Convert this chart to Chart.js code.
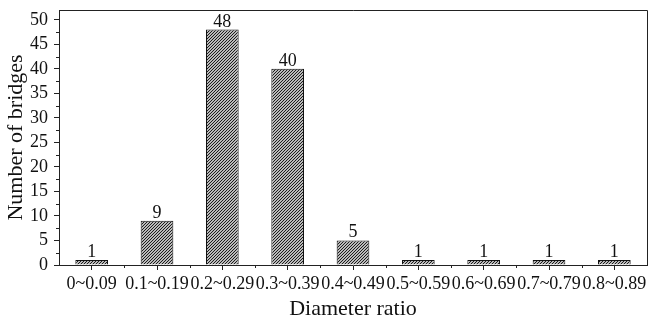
<!DOCTYPE html>
<html>
<head>
<meta charset="utf-8">
<script src="https://cdn.jsdelivr.net/npm/chart.js@4"></script>
<style>
  html, body { margin: 0; padding: 0; background: #fff; }
  #wrap { width: 651px; height: 322px; }
</style>
</head>
<body>
<div id="wrap"><canvas id="c" width="651" height="322"></canvas></div>
<script>
// Distribution of bridges by diameter ratio
const categories = ['0~0.09', '0.1~0.19', '0.2~0.29', '0.3~0.39', '0.4~0.49', '0.5~0.59', '0.6~0.69', '0.7~0.79', '0.8~0.89'];
const bridgeCounts = [1, 9, 48, 40, 5, 1, 1, 1, 1];
const yTickValues = [0, 5, 10, 15, 20, 25, 30, 35, 40, 45, 50];

const FONT = '"Liberation Serif", "Times New Roman", serif';

// diagonal hatch fill
function makeHatch() {
  const s = 3;
  const c = document.createElement('canvas');
  c.width = s; c.height = s;
  const g = c.getContext('2d');
  g.fillStyle = '#fff';
  g.fillRect(0, 0, s, s);
  g.strokeStyle = '#111';
  g.lineWidth = 1.1;
  g.beginPath();
  g.moveTo(-1, s + 1); g.lineTo(s + 1, -1);
  g.moveTo(-1, 1); g.lineTo(1, -1);
  g.moveTo(s - 1, s + 1); g.lineTo(s + 1, s - 1);
  g.stroke();
  return g.createPattern(c, 'repeat');
}

// frame, minor ticks and value labels
const decorations = {
  id: 'decorations',
  afterDraw(chart) {
    const ctx = chart.ctx;
    const a = chart.chartArea;
    const xs = chart.scales.x, ys = chart.scales.y;
    ctx.save();
    ctx.strokeStyle = '#222';
    ctx.lineWidth = 1;
    // top and right frame
    ctx.beginPath();
    ctx.moveTo(a.left, Math.round(a.top) + 0.5);
    ctx.lineTo(Math.round(a.right) + 0.5, Math.round(a.top) + 0.5);
    ctx.lineTo(Math.round(a.right) + 0.5, a.bottom);
    ctx.stroke();
    // minor y ticks
    ctx.beginPath();
    for (let v = 2.5; v < 52; v += 5) {
      const y = Math.round(ys.getPixelForValue(v)) + 0.5;
      ctx.moveTo(a.left - 3, y); ctx.lineTo(a.left, y);
    }
    // minor x ticks at category boundaries
    for (let i = 0; i < categories.length - 1; i++) {
      const x = Math.round((xs.getPixelForValue(i) + xs.getPixelForValue(i + 1)) / 2) + 0.5;
      ctx.moveTo(x, a.bottom); ctx.lineTo(x, a.bottom + 3);
    }
    ctx.stroke();
    // value labels
    ctx.fillStyle = '#111';
    ctx.font = '18px ' + FONT;
    ctx.textAlign = 'center';
    ctx.textBaseline = 'alphabetic';
    const meta = chart.getDatasetMeta(0);
    meta.data.forEach((bar, i) => {
      ctx.fillText(String(bridgeCounts[i]), bar.x, bar.y - 3);
    });
    ctx.restore();
  }
};

new Chart(document.getElementById('c'), {
  type: 'bar',
  data: {
    labels: categories,
    datasets: [{
      data: bridgeCounts,
      backgroundColor: makeHatch(),
      borderColor: '#111',
      borderWidth: 1,
      barPercentage: 0.5,
      categoryPercentage: 1.0
    }]
  },
  options: {
    responsive: false,
    animation: false,
    devicePixelRatio: 1,
    layout: { padding: { top: 10, right: 4, left: 0, bottom: 0 } },
    plugins: { legend: { display: false }, tooltip: { enabled: false } },
    scales: {
      x: {
        offset: true,
        grid: { display: true, drawOnChartArea: false, drawTicks: true, tickLength: 5, offset: false, color: '#222' },
        border: { display: true, color: '#222', width: 1 },
        ticks: { color: '#111', font: { family: FONT, size: 18 }, padding: 3, maxRotation: 0, autoSkip: false },
        title: { display: true, text: 'Diameter ratio', color: '#111', font: { family: FONT, size: 22 }, padding: { top: 2, bottom: 0 } },
        afterFit(s) { s.height = 57; s.paddingLeft = 0; s.paddingRight = 0; }
      },
      y: {
        min: 0,
        max: 52,
        grid: { display: true, drawOnChartArea: false, drawTicks: true, tickLength: 5, color: '#222' },
        border: { display: true, color: '#222', width: 1 },
        ticks: { stepSize: 5, color: '#111', font: { family: FONT, size: 18 }, padding: 6 },
        afterBuildTicks(s) { s.ticks = yTickValues.map(v => ({ value: v })); },
        title: { display: true, text: 'Number of bridges', color: '#111', font: { family: FONT, size: 22 }, padding: { top: 3, bottom: 0 } },
        afterFit(s) { s.width = 59; s.paddingTop = 0; s.paddingBottom = 0; }
      }
    }
  },
  plugins: [decorations]
});
</script>
</body>
</html>
